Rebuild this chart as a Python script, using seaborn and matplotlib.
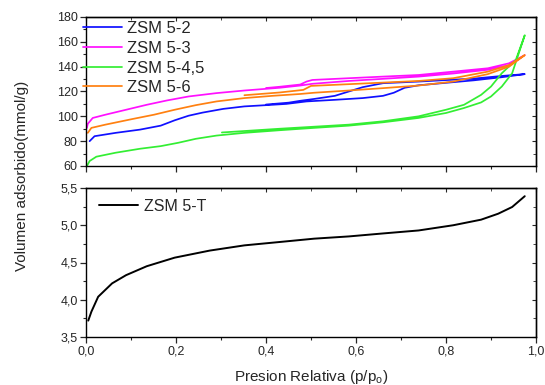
import numpy as np
import pandas as pd
import matplotlib
matplotlib.use("Agg")
import matplotlib.pyplot as plt
from matplotlib.ticker import MultipleLocator
import seaborn as sns

# ---------------- data ----------------
series_names = ["ZSM 5-2", "ZSM 5-3", "ZSM 5-4,5", "ZSM 5-6"]

zsm2_ads_x = [0.008, 0.019, 0.066, 0.12, 0.166, 0.197, 0.228, 0.259, 0.305, 0.352, 0.40, 0.445, 0.49, 0.553, 0.615, 0.66, 0.684, 0.708, 0.739, 0.80, 0.862, 0.924, 0.975]
zsm2_ads_y = [80, 84, 86.7, 89.3, 92.5, 96.8, 100.5, 103, 106, 108, 109, 110, 112, 113.3, 114.7, 116.5, 119, 123, 125, 127, 129, 131.5, 134]
zsm2_des_x = [0.975, 0.924, 0.862, 0.739, 0.66, 0.615, 0.584, 0.553, 0.507, 0.476, 0.45, 0.40]
zsm2_des_y = [134, 132.5, 130.4, 128, 126.7, 123.5, 120, 116.5, 114, 112.5, 111, 109.5]

zsm3_ads_x = [0.002, 0.004, 0.015, 0.043, 0.089, 0.135, 0.18, 0.228, 0.29, 0.352, 0.43, 0.476, 0.503, 0.584, 0.66, 0.739, 0.816, 0.893, 0.94, 0.975]
zsm3_ads_y = [90.7, 94, 98.7, 101.3, 105.3, 109.3, 112.8, 116, 118.7, 120.8, 123, 124.8, 126.2, 128.5, 130.2, 132, 134.5, 137.5, 141, 149.3]
zsm3_des_x = [0.975, 0.94, 0.893, 0.816, 0.739, 0.66, 0.584, 0.503, 0.49, 0.476, 0.43, 0.40]
zsm3_des_y = [149.3, 142.7, 138.7, 136, 133.3, 132, 130.7, 129.3, 128, 125.6, 123.8, 122.8]

zsm45_ads_x = [0.002, 0.008, 0.023, 0.066, 0.12, 0.166, 0.205, 0.244, 0.29, 0.352, 0.43, 0.507, 0.584, 0.66, 0.739, 0.80, 0.84, 0.878, 0.90, 0.924, 0.947, 0.975]
zsm45_ads_y = [60, 64, 67.5, 70.7, 73.9, 76, 78.7, 81.9, 84.5, 86.7, 88.8, 90.7, 92.5, 95.2, 98.7, 102.7, 106.7, 111.2, 116, 124, 134.7, 165.3]
zsm45_des_x = [0.975, 0.955, 0.924, 0.90, 0.878, 0.84, 0.80, 0.739, 0.66, 0.584, 0.43, 0.302]
zsm45_des_y = [165.3, 145.3, 134.7, 124, 117.3, 109.3, 105.3, 100, 96, 93.3, 90, 87]

zsm6_ads_x = [0.004, 0.012, 0.043, 0.104, 0.151, 0.197, 0.244, 0.29, 0.352, 0.414, 0.476, 0.507, 0.584, 0.66, 0.739, 0.816, 0.893, 0.94, 0.975]
zsm6_ads_y = [86.7, 90.7, 93.3, 97.9, 101.3, 105.3, 109, 112, 114.7, 116.5, 118, 119, 120.8, 122.7, 124.8, 128, 134, 140, 149.3]
zsm6_des_x = [0.975, 0.94, 0.893, 0.816, 0.739, 0.584, 0.50, 0.483, 0.43, 0.352]
zsm6_des_y = [149.3, 141.3, 136, 130.7, 128.5, 125.9, 124.5, 121.3, 119.2, 117]

zsmT_x = [0.005, 0.012, 0.027, 0.058, 0.089, 0.135, 0.197, 0.275, 0.352, 0.43, 0.507, 0.584, 0.66, 0.739, 0.816, 0.878, 0.916, 0.947, 0.975]
zsmT_y = [3.72, 3.84, 4.04, 4.22, 4.33, 4.45, 4.565, 4.66, 4.73, 4.775, 4.82, 4.85, 4.89, 4.93, 5.0, 5.075, 5.155, 5.245, 5.39]

x_ticks = [0.0, 0.2, 0.4, 0.6, 0.8, 1.0]
x_tick_labels = ["0,0", "0,2", "0,4", "0,6", "0,8", "1,0"]
top_y_ticks = [60, 80, 100, 120, 140, 160, 180]
bot_y_ticks = [3.5, 4.0, 4.5, 5.0, 5.5]
bot_y_tick_labels = ["3,5", "4,0", "4,5", "5,0", "5,5"]

colors = {"ZSM 5-2": "#1010ff", "ZSM 5-3": "#ff10ff", "ZSM 5-4,5": "#33ee33", "ZSM 5-6": "#ff8010"}

# ---------------- style ----------------
sns.set_style("ticks")
plt.rcParams["font.family"] = ["Liberation Sans", "DejaVu Sans"]
plt.rcParams["axes.linewidth"] = 1.0

fig = plt.figure(figsize=(5.45, 3.85), dpi=100)
ax1 = fig.add_axes([86/545, 1-166/385, 450/545, 149/385])
ax2 = fig.add_axes([86/545, 1-337/385, 450/545, 149/385])

pairs = {
    "ZSM 5-2": (zsm2_ads_x + zsm2_des_x, zsm2_ads_y + zsm2_des_y),
    "ZSM 5-3": (zsm3_ads_x + zsm3_des_x, zsm3_ads_y + zsm3_des_y),
    "ZSM 5-4,5": (zsm45_ads_x + zsm45_des_x, zsm45_ads_y + zsm45_des_y),
    "ZSM 5-6": (zsm6_ads_x + zsm6_des_x, zsm6_ads_y + zsm6_des_y),
}
for name in series_names:
    xs, ys = pairs[name]
    df = pd.DataFrame({"x": xs, "y": ys})
    sns.lineplot(data=df, x="x", y="y", sort=False, estimator=None, ax=ax1,
                 color=colors[name], linewidth=1.25, label=name)

dfT = pd.DataFrame({"x": zsmT_x, "y": zsmT_y})
sns.lineplot(data=dfT, x="x", y="y", sort=False, estimator=None, ax=ax2,
             color="black", linewidth=1.4, label="ZSM 5-T")

for ax in (ax1, ax2):
    ax.set_xlim(0, 1.0)
    ax.set_xticks(x_ticks)
    ax.xaxis.set_minor_locator(MultipleLocator(0.1))
    ax.set_xlabel("")
    ax.set_ylabel("")
    ax.tick_params(axis="both", which="major", direction="out", length=4, width=0.9,
                   labelsize=9, pad=2, top=False, right=False)
    ax.tick_params(axis="both", which="minor", direction="out", length=2.5, width=0.8,
                   top=False, right=False)
    for s in ax.spines.values():
        s.set_linewidth(1.0)
        s.set_color("black")
    tx = ax.secondary_xaxis("top")
    tx.set_xticks(x_ticks)
    tx.xaxis.set_minor_locator(MultipleLocator(0.1))
    tx.tick_params(which="major", direction="in", length=3, labeltop=False)
    tx.tick_params(which="minor", direction="in", length=2)
    tx.set_xticklabels([])

ax1.set_ylim(60, 180)
ax1.set_yticks(top_y_ticks)
ax1.yaxis.set_minor_locator(MultipleLocator(10))
ax1.set_xticklabels([])
ry1 = ax1.secondary_yaxis("right")
ry1.set_yticks(top_y_ticks)
ry1.yaxis.set_minor_locator(MultipleLocator(10))
ry1.tick_params(which="major", direction="in", length=3)
ry1.tick_params(which="minor", direction="in", length=2)
ry1.set_yticklabels([])

ax2.set_ylim(3.5, 5.5)
ax2.set_yticks(bot_y_ticks)
ax2.set_yticklabels(bot_y_tick_labels)
ax2.yaxis.set_minor_locator(MultipleLocator(0.25))
ax2.set_xticklabels(x_tick_labels)
ry2 = ax2.secondary_yaxis("right")
ry2.set_yticks(bot_y_ticks)
ry2.yaxis.set_minor_locator(MultipleLocator(0.25))
ry2.tick_params(which="major", direction="in", length=3)
ry2.tick_params(which="minor", direction="in", length=2)
ry2.set_yticklabels([])

ax1.legend(loc="upper left", bbox_to_anchor=(-0.007, 0.972), frameon=False,
           fontsize=12, handlelength=2.35, handletextpad=0.3, labelspacing=0.28,
           borderaxespad=0, borderpad=0)
ax2.legend(loc="upper left", bbox_to_anchor=(0.029, 0.928), frameon=False,
           fontsize=11.5, handlelength=2.45, handletextpad=0.35,
           borderaxespad=0, borderpad=0)

fig.text(22/545, 1-176/385, "Volumen adsorbido(mmol/g)", rotation=90,
         ha="center", va="center", fontsize=11)
fig.text(311/545, 1-377/385, "Presion Relativa (p/p$_\\mathregular{o}$)",
         ha="center", va="center", fontsize=11)

fig.savefig("out.png", dpi=100)
